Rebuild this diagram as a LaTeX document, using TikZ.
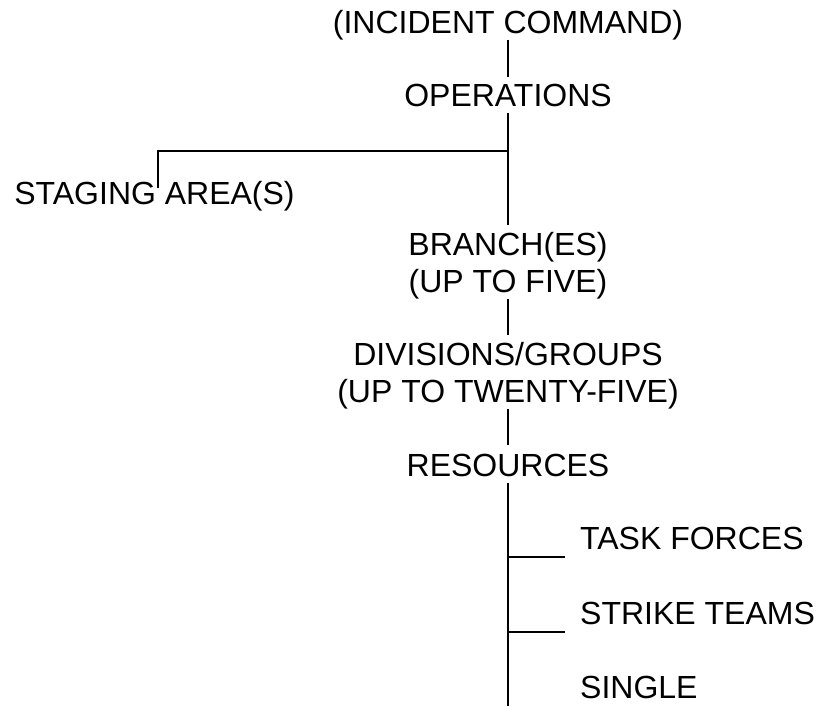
\documentclass[tikz,border=0pt]{standalone}
\usepackage{fontspec}
\setmainfont{Liberation Sans}
% uniform line height/depth so node edges sit at the same offset from each baseline
\newcommand\ystrut{\vphantom{()}}
\begin{document}
\begin{tikzpicture}[x=1pt,y=-1pt,
  lbl/.style={inner sep=0pt, align=center, font=\fontsize{32}{37}\selectfont},
  link/.style={line width=2.5pt, black},
]
\useasboundingbox (0,0) rectangle (817,706);

% chain of command
\node[lbl, anchor=north] (ic)  at (508,9.7)   {\ystrut(INCIDENT COMMAND)};
\node[lbl, anchor=north] (ops) at (508,82.7)  {\ystrut OPERATIONS};
\node[lbl, anchor=north] (stg) at (154.5,180.7) {\ystrut STAGING AREA(S)};
\node[lbl, anchor=north] (br)  at (508,231.7) {\ystrut BRANCH(ES)\\\ystrut(UP TO FIVE)};
\node[lbl, anchor=north] (div) at (508,341.7) {\ystrut DIVISIONS/GROUPS\\\ystrut(UP TO TWENTY-FIVE)};
\node[lbl, anchor=north] (res) at (508,452.7) {\ystrut RESOURCES};

% resource types
\node[lbl, anchor=north west] (tf) at (580,525.7) {\ystrut TASK FORCES};
\node[lbl, anchor=north west] (st) at (580,600.7) {\ystrut STRIKE TEAMS};
\node[lbl, anchor=north west] (sg) at (580,674.7) {\ystrut SINGLE};

% connectors
\coordinate (jn)  at (508,151);
\coordinate (bot) at (508,706);
\draw[link] (ic.south)  -- ([yshift=6pt]ops.north);
\draw[link] (ops.south) -- ([yshift=6.7pt]br.north);
\draw[link] (jn) -| ([xshift=3.5pt,yshift=-7.3pt]stg.north);
\draw[link] (br.south)  -- ([yshift=6.7pt]div.north);
\draw[link] (div.south) -- ([yshift=7.7pt]res.north);
\draw[link] (res.south) -- (bot);

\coordinate (tfj) at ([yshift=-1.2pt]tf.south west);
\coordinate (stj) at ([yshift=-1.2pt]st.south west);
\draw[link] (tfj -| res.south) -- ([xshift=-15pt]tfj);
\draw[link] (stj -| res.south) -- ([xshift=-15pt]stj);
\end{tikzpicture}
\end{document}
